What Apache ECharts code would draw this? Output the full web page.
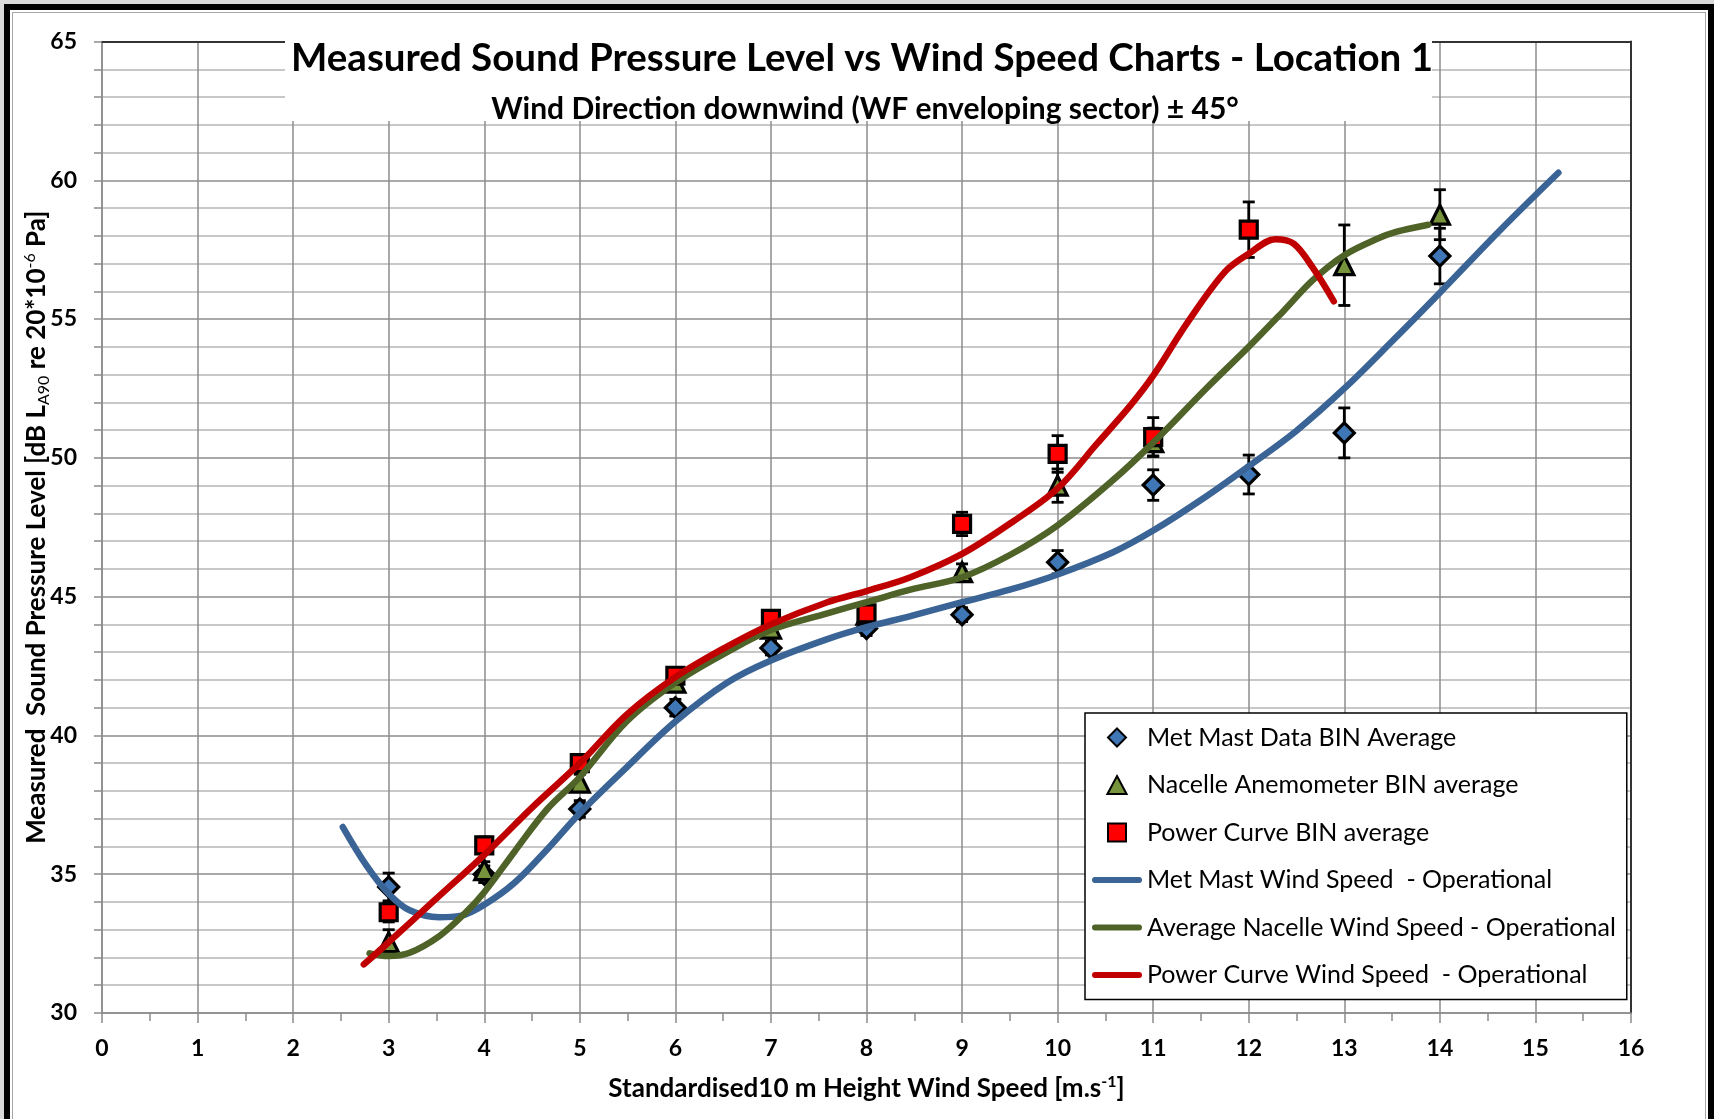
<!DOCTYPE html>
<html>
<head>
<meta charset="utf-8">
<script src="https://cdn.jsdelivr.net/npm/echarts@6/dist/echarts.min.js"></script>
<style>
  html, body { margin: 0; padding: 0; width: 1714px; height: 1119px; overflow: hidden; background: #d9d9d9; }
  #frame { position: absolute; left: 4px; top: 4px; width: 1698px; height: 1130px; border: 6px solid #000; background: #fff; }
  #inner { position: absolute; left: 2px; top: 2px; right: 2px; bottom: 20px; border: 1px solid #a6a6a6; }
  #chart { position: absolute; left: 0; top: 0; width: 1714px; height: 1119px; }
</style>
</head>
<body>
<div id="frame"><div id="inner"></div></div>
<div id="chart"></div>
<script>
// ---- Data ----
const binSpeeds = [3, 4, 5, 6, 7, 8, 9, 10, 11, 12, 13, 14];
const metMastAvg = [34.54, 35.0, 37.35, 41.0, 43.15, 43.85, 44.35, 46.24, 49.02, 49.4, 50.9, 57.27];
const metMastErr = [0.5, 0.3, 0.3, 0.3, 0.25, 0.25, 0.25, 0.42, 0.55, 0.7, 0.9, 1.0];
const nacelleAvg = [32.55, 35.15, 38.3, 41.9, 43.85, 44.35, 45.88, 49.0, 50.57, null, 56.94, 58.76];
const nacelleErr = [0.45, 0.3, 0.3, 0.3, 0.3, 0.3, 0.3, 0.6, 0.5, null, 1.45, 0.9];
const powerAvg = [33.63, 36.04, 39.0, 42.15, 44.2, 44.4, 47.62, 50.14, 50.75, 58.22];
const powerErr = [0.35, 0.3, 0.3, 0.3, 0.3, 0.3, 0.42, 0.66, 0.7, 1.0];

const metMastCurve = [
  [2.52, 36.7], [2.77, 35.3], [3.0, 34.3], [3.22, 33.7], [3.53, 33.45], [3.75, 33.5], [4.0, 33.9],
  [4.32, 34.7], [4.66, 35.9], [5.0, 37.2], [5.49, 38.85], [6.0, 40.5], [6.54, 41.9], [7.0, 42.7],
  [7.59, 43.47], [8.0, 43.9], [8.46, 44.3], [9.0, 44.8], [9.5, 45.25], [10.0, 45.8], [10.58, 46.6],
  [11.0, 47.38], [11.55, 48.6], [12.0, 49.7], [12.5, 50.98], [13.0, 52.5], [13.5, 54.2],
  [14.0, 55.95], [14.63, 58.2], [15.24, 60.27]
];
const nacelleCurve = [
  [2.8, 32.15], [3.0, 32.05], [3.22, 32.17], [3.53, 32.77], [3.8, 33.6], [4.0, 34.35], [4.32, 35.83],
  [4.66, 37.35], [5.0, 38.5], [5.49, 40.5], [6.0, 41.9], [6.54, 43.0], [7.0, 43.8], [7.59, 44.4],
  [8.0, 44.8], [8.46, 45.25], [9.0, 45.7], [9.5, 46.5], [10.0, 47.57], [10.58, 49.2], [11.0, 50.55],
  [11.55, 52.48], [12.0, 54.0], [12.35, 55.24], [12.67, 56.4], [13.0, 57.3], [13.35, 57.9],
  [13.55, 58.15], [13.88, 58.4]
];
const powerCurve = [
  [2.74, 31.75], [3.0, 32.55], [3.46, 34.0], [4.0, 35.7], [4.5, 37.4], [5.0, 39.0], [5.49, 40.75],
  [6.0, 42.1], [6.54, 43.2], [7.0, 44.0], [7.59, 44.8], [8.0, 45.2], [8.46, 45.7], [9.0, 46.54],
  [9.53, 47.7], [10.0, 48.9], [10.41, 50.5], [10.76, 51.88], [11.0, 52.96], [11.36, 54.88],
  [11.75, 56.7], [12.0, 57.35], [12.28, 57.88], [12.47, 57.72], [12.67, 56.85], [12.89, 55.64]
];

const seriesNames = [
  'Met Mast Data BIN Average',
  'Nacelle Anemometer BIN average',
  'Power Curve BIN average',
  'Met Mast Wind Speed  - Operational',
  'Average Nacelle Wind Speed - Operational',
  'Power Curve Wind Speed  - Operational'
];
const titleText = 'Measured Sound Pressure Level vs Wind Speed Charts - Location 1';
const subtitleText = 'Wind Direction downwind (WF enveloping sector) ± 45°';

// ---- helpers ----
function pairs(xs, ys) {
  const out = [];
  ys.forEach((v, i) => { if (v != null) out.push([xs[i], v]); });
  return out;
}
function errRows(xs, ys, es) {
  const out = [];
  ys.forEach((v, i) => { if (v != null && es[i] != null) out.push([xs[i], v - es[i], v + es[i]]); });
  return out;
}
function errSeries(rows) {
  return {
    type: 'custom', data: rows, z: 2, silent: true,
    encode: { x: 0, y: [1, 2] },
    renderItem: function (params, api) {
      const x = api.value(0);
      const lo = api.coord([x, api.value(1)]);
      const hi = api.coord([x, api.value(2)]);
      const cw = 6;
      const st = { stroke: '#000', lineWidth: 2.8 };
      return {
        type: 'group', children: [
          { type: 'line', shape: { x1: lo[0], y1: lo[1], x2: hi[0], y2: hi[1] }, style: st },
          { type: 'line', shape: { x1: lo[0] - cw, y1: lo[1], x2: lo[0] + cw, y2: lo[1] }, style: st },
          { type: 'line', shape: { x1: hi[0] - cw, y1: hi[1], x2: hi[0] + cw, y2: hi[1] }, style: st }
        ]
      };
    }
  };
}

const FONT = 'Lato';
const LINE_ICON = 'path://M3,0 L47,0 A3,3 0 0 1 47,6 L3,6 A3,3 0 0 1 3,0 Z';
const DIAMOND_ICON = 'path://M8,0 L16,8 L8,16 L0,8 Z';
const TRIANGLE_ICON = 'path://M8,0 L16,15 L0,15 Z';
const SQUARE_ICON = 'path://M0,0 L14,0 L14,14 L0,14 Z';
const chart = echarts.init(document.getElementById('chart'), null, { renderer: 'canvas' });

const option = {
  backgroundColor: 'transparent',
  animation: false,
  textStyle: { fontFamily: FONT },
  title: [
    { text: titleText, left: 857, top: 34, textAlign: 'center',
      textStyle: { fontFamily: FONT, fontSize: 38.5, fontWeight: 'bold', color: '#000' } },
    { text: subtitleText, left: 860, top: 89, textAlign: 'center',
      textStyle: { fontFamily: FONT, fontSize: 30, fontWeight: 'bold', color: '#000' } }
  ],
  graphic: [
    { type: 'rect', shape: { x: 285, y: 34, width: 1147, height: 87 }, style: { fill: '#fff' }, z: 1, silent: true }
  ],
  grid: { left: 102, right: 83, top: 41.5, bottom: 106, containLabel: false },
  legend: {
    data: [
      { name: seriesNames[0], icon: DIAMOND_ICON },
      { name: seriesNames[1], icon: TRIANGLE_ICON },
      { name: seriesNames[2], icon: SQUARE_ICON },
      { name: seriesNames[3], icon: LINE_ICON, itemStyle: { borderWidth: 0 } },
      { name: seriesNames[4], icon: LINE_ICON, itemStyle: { borderWidth: 0 } },
      { name: seriesNames[5], icon: LINE_ICON, itemStyle: { borderWidth: 0 } }
    ],
    orient: 'vertical',
    left: 1085, top: 713,
    padding: [11, 11, 11, 7],
    itemWidth: 50, itemHeight: 18, itemGap: 20.5,
    symbolKeepAspect: true,
    backgroundColor: '#fff', borderColor: '#000', borderWidth: 1.5, borderRadius: 0,
    textStyle: { fontFamily: FONT, fontSize: 25, lineHeight: 27, color: '#000' },
    z: 10
  },
  xAxis: [
    {
      type: 'value', min: 0, max: 16, interval: 1,
      axisLine: { lineStyle: { color: '#8c8c8c', width: 1.5 } },
      axisTick: { show: true, length: 10, lineStyle: { color: '#8c8c8c', width: 1.5 } },
      minorTick: { show: true, splitNumber: 2, length: 8, lineStyle: { color: '#8c8c8c', width: 1.5 } },
      splitLine: { show: true, lineStyle: { color: '#8c8c8c', width: 1.5 } },
      axisLabel: { margin: 24, fontFamily: FONT, fontSize: 23, fontWeight: 'bold', color: '#000' },
      name: '{a|Standardised10 m Height Wind Speed [m.s}{s|-1}{a|]}',
      nameLocation: 'middle', nameGap: 61, nameMoveOverlap: false,
      nameTextStyle: {
        rich: {
          a: { fontFamily: FONT, fontSize: 26, fontWeight: 'bold', color: '#000', lineHeight: 30 },
          s: { fontFamily: FONT, fontSize: 16, fontWeight: 'bold', color: '#000', lineHeight: 30, verticalAlign: 'top', padding: [0, 0, 12, 0] }
        }
      }
    },
    {
      type: 'value', min: 0, max: 16, position: 'top',
      axisLine: { onZero: false, lineStyle: { color: '#333', width: 2 } },
      axisTick: { show: false }, axisLabel: { show: false }, splitLine: { show: false }
    }
  ],
  yAxis: [
    {
      type: 'value', min: 30, max: 65, interval: 5,
      axisLine: { show: true, lineStyle: { color: '#8c8c8c', width: 1.5 } },
      axisTick: { show: true, length: 8, lineStyle: { color: '#8c8c8c', width: 1.5 } },
      minorTick: { show: true, splitNumber: 5, length: 8, lineStyle: { color: '#8c8c8c', width: 1.5 } },
      splitLine: { show: true, lineStyle: { color: '#8c8c8c', width: 1.5 } },
      minorSplitLine: { show: true, lineStyle: { color: '#c8c8c8', width: 2 } },
      axisLabel: { margin: 25, fontFamily: FONT, fontSize: 23, fontWeight: 'bold', color: '#000' },
      name: '{a|Measured  Sound Pressure Level [dB L}{b|A90}{a| re 20*10}{s|-6}{a| Pa]}',
      nameLocation: 'middle', nameGap: 50, nameRotate: 90, nameMoveOverlap: false,
      nameTextStyle: {
        rich: {
          a: { fontFamily: FONT, fontSize: 26, fontWeight: 'bold', color: '#000', lineHeight: 30 },
          b: { fontFamily: FONT, fontSize: 16, color: '#000', lineHeight: 30, verticalAlign: 'bottom', padding: [9, 0, 0, 0] },
          s: { fontFamily: FONT, fontSize: 16, color: '#000', lineHeight: 30, verticalAlign: 'top', padding: [0, 0, 12, 0] }
        }
      }
    },
    {
      type: 'value', min: 30, max: 65, position: 'right',
      axisLine: { show: true, onZero: false, lineStyle: { color: '#333', width: 2 } },
      axisTick: { show: false }, axisLabel: { show: false }, splitLine: { show: false }
    }
  ],
  series: [
    { name: seriesNames[0], type: 'scatter', data: pairs(binSpeeds, metMastAvg), z: 3,
      symbol: 'diamond', symbolSize: 20,
      itemStyle: { color: '#3f76b5', borderColor: '#000', borderWidth: 3.2, opacity: 1 } },
    { name: seriesNames[1], type: 'scatter', data: pairs(binSpeeds, nacelleAvg), z: 3,
      symbol: 'triangle', symbolSize: 19,
      itemStyle: { color: '#77933c', borderColor: '#000', borderWidth: 3.2, opacity: 1 } },
    { name: seriesNames[2], type: 'scatter', data: pairs(binSpeeds, powerAvg), z: 3,
      symbol: 'rect', symbolSize: 17,
      itemStyle: { color: '#ff0000', borderColor: '#000', borderWidth: 3.2, opacity: 1 } },
    { name: seriesNames[3], type: 'line', data: metMastCurve, z: 4, smooth: 0.35,
      symbol: 'none', showSymbol: false,
      lineStyle: { color: '#3a6496', width: 6.5, cap: 'round' }, itemStyle: { color: '#3a6496' } },
    { name: seriesNames[4], type: 'line', data: nacelleCurve, z: 4, smooth: 0.35,
      symbol: 'none', showSymbol: false,
      lineStyle: { color: '#4f6228', width: 6.5, cap: 'round' }, itemStyle: { color: '#4f6228' } },
    { name: seriesNames[5], type: 'line', data: powerCurve, z: 4, smooth: 0.35,
      symbol: 'none', showSymbol: false,
      lineStyle: { color: '#c00000', width: 6.5, cap: 'round' }, itemStyle: { color: '#c00000' } },
    errSeries(errRows(binSpeeds, metMastAvg, metMastErr)),
    errSeries(errRows(binSpeeds, nacelleAvg, nacelleErr)),
    errSeries(errRows(binSpeeds, powerAvg, powerErr))
  ]
};
chart.setOption(option);
</script>
</body>
</html>
